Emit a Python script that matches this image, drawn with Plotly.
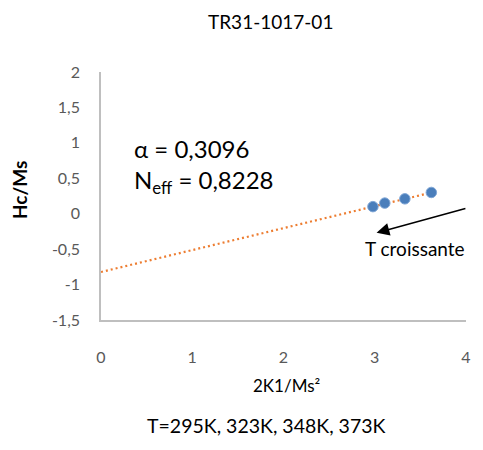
import plotly.graph_objects as go

# Data
x_vals = [2.98, 3.11, 3.33, 3.62]          # 2K1/Ms²
y_vals = [0.10, 0.15, 0.21, 0.30]          # Hc/Ms
alpha = 0.3096
n_eff = 0.8228
temps = ["295K", "323K", "348K", "373K"]

y_tickvals = [-1.5, -1, -0.5, 0, 0.5, 1, 1.5, 2]
y_ticktext = ["-1,5", "-1", "-0,5", "0", "0,5", "1", "1,5", "2"]
x_tickvals = [0, 1, 2, 3, 4]
x_ticktext = ["0", "1", "2", "3", "4"]

FONT = "Lato"
GRAY = "#595959"

# page offset from default body margin
OFF = 8
W, H = 483 - OFF, 450 - OFF
L, R, T = 101 - OFF, 483 - 466, 72 - OFF
PB = 320 - OFF  # plot bottom in fig px
B = H - PB
PW = W - L - R
PH = PB - T


def px(page_x):
    return (page_x - OFF - L) / PW


def py(page_y):
    return (PB - (page_y - OFF)) / PH


trend_x = [0, max(x_vals)]
trend_y = [alpha * t - n_eff for t in trend_x]

fig = go.Figure()
fig.add_trace(go.Scatter(x=trend_x, y=trend_y, mode="lines",
                         line=dict(color="#ED7D31", width=2.2, dash="2px,3px"),
                         showlegend=False, hoverinfo="skip"))
fig.add_trace(go.Scatter(x=x_vals, y=y_vals, mode="markers",
                         marker=dict(color="#4A7EBB", size=10.5,
                                     line=dict(color="#7FA6D6", width=1)),
                         showlegend=False))

fig.update_layout(
    width=W, height=H,
    margin=dict(l=L, r=R, t=T, b=B),
    paper_bgcolor="white", plot_bgcolor="white",
    font=dict(family=FONT, color=GRAY, size=15),
    separators=", ",
    showlegend=False,
)
fig.update_xaxes(range=[0, 4], tickvals=x_tickvals, ticktext=x_ticktext,
                 showgrid=False, zeroline=False, showline=True,
                 linecolor="#BFBFBF", linewidth=1.5, ticks="",
                 ticklabelstandoff=22,
                 tickfont=dict(family=FONT, size=16, color=GRAY))
fig.update_yaxes(range=[-1.5, 2], tickvals=y_tickvals, ticktext=y_ticktext,
                 showgrid=False, zeroline=False, showline=True,
                 linecolor="#BFBFBF", linewidth=1.5, ticks="",
                 ticklabelstandoff=16,
                 tickfont=dict(family=FONT, size=16, color=GRAY))

base = dict(xref="paper", yref="paper", showarrow=False, yanchor="middle")
ann = [
    dict(base, text="TR31-1017-01", x=px(270), y=py(OFF), xanchor="center",
         yanchor="top", font=dict(family=FONT, size=19, color="black")),
    dict(base, text="<b>Hc/Ms</b>", x=px(19), y=py(190), xanchor="center",
         textangle=-90, font=dict(family=FONT, size=19, color="black")),
    dict(base, text="2K1/Ms²", x=px(286), y=py(385), xanchor="center",
         font=dict(family=FONT, size=17, color="black")),
    dict(base, text="T=" + ", ".join(temps), x=px(266), y=py(425), xanchor="center",
         font=dict(family=FONT, size=19.5, color="black")),
    dict(base, text="α = 0,3096<br>N<sub>eff</sub> = 0,8228", x=px(132), y=py(166),
         xanchor="left", align="left",
         font=dict(family=FONT, size=24, color="black")),
    dict(base, text="T croissante", x=px(415), y=py(248), xanchor="center",
         font=dict(family=FONT, size=19, color="black")),
    dict(text="", x=3.02, y=-0.27, xref="x", yref="y",
         ax=4.01, ay=0.08, axref="x", ayref="y",
         showarrow=True, arrowhead=2, arrowsize=1.7, arrowwidth=1.5,
         arrowcolor="black"),
]
fig.update_layout(annotations=ann)
fig.write_html("out.html")
